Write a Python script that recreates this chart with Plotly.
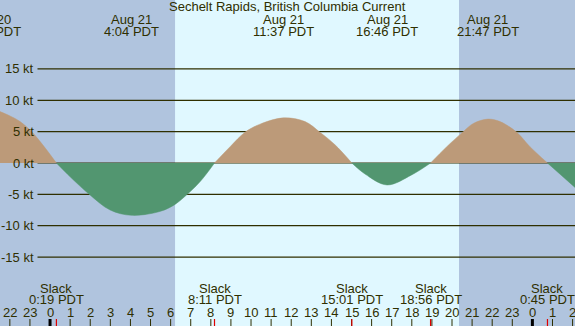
import plotly.graph_objects as go

# ---------------- data (hours relative to Aug 21 00:00 PDT) ----------------
X_MIN, X_MAX = -2.49, 26.12
Y_MIN, Y_MAX = -26.0, 26.0
sunrise_h = 6.22
sunset_h = 20.35

curve_hours = [-2.49, -1.99, -1.49, -0.83, 0.317, 1.0, 1.99, 2.99, 4.067,
               5.5, 6.22, 6.72, 7.46, 8.183, 8.96, 9.70, 10.45, 11.617, 12.69,
               13.43, 14.18, 15.017, 15.67, 16.767, 17.99, 18.933, 19.74, 20.56,
               21.06, 21.783, 22.39, 23.22, 23.88, 24.75, 26.12]
curve_kt = [8.2, 7.5, 6.6, 4.7, 0.0, -2.2, -5.1, -7.5, -8.35,
            -7.7, -6.6, -5.3, -3.0, 0.0, 2.6, 4.9, 6.2, 7.2, 6.6,
            4.9, 2.9, 0.0, -1.75, -3.5, -1.9, 0.0, 2.6, 5.0,
            6.3, 7.0, 6.6, 4.9, 2.6, 0.0, -3.9]

event_hours = [-2.98, 4.067, 11.617, 16.767, 21.783]
event_dates = ["Aug 20", "Aug 21", "Aug 21", "Aug 21", "Aug 21"]
event_times = ["21:01 PDT", "4:04 PDT", "11:37 PDT", "16:46 PDT", "21:47 PDT"]

slack_hours = [0.317, 8.183, 15.017, 18.933, 24.75]
slack_times = ["0:19 PDT", "8:11 PDT", "15:01 PDT", "18:56 PDT", "0:45 PDT"]

hour_ticks = list(range(-2, 27))
hour_labels = [str(h % 24) for h in hour_ticks]

grid_kt = [15, 10, 5, 0, -5, -10, -15]
grid_labels = ["15 kt", "10 kt", "5 kt", "0 kt", "-5 kt", "-10 kt", "-15 kt"]

title_text = "Sechelt Rapids, British Columbia Current"

# ---------------- style ----------------
W, H = 575, 326
NIGHT = "#b0c4de"
DAY = "#e0f8ff"
FLOOD = "#bc9a79"
EBB = "#529670"
INK = "#2f2f00"
FONT = "Liberation Sans"
FS = 13


def py(ypx):
    return 1 - ypx / H


def pxx(h):
    return (h - X_MIN) / (X_MAX - X_MIN)


fig = go.Figure()

# split curve into signed segments at slack (zero) points
segments = []
cur = []
for h, v in zip(curve_hours, curve_kt):
    cur.append((h, v))
    if v == 0 and len(cur) > 1:
        segments.append(cur)
        cur = [(h, v)]
if len(cur) > 1:
    segments.append(cur)

for seg in segments:
    xs = [p[0] for p in seg]
    ys = [p[1] for p in seg]
    col = FLOOD if sum(ys) > 0 else EBB
    fig.add_trace(go.Scatter(x=xs, y=ys, mode="lines", fill="tozeroy",
                             fillcolor=col, line=dict(color=col, width=0.5, shape="spline"),
                             hoverinfo="skip", showlegend=False))

shapes = []
# night / day backgrounds
shapes.append(dict(type="rect", xref="x", yref="paper", x0=X_MIN, x1=sunrise_h, y0=0, y1=1,
                   fillcolor=NIGHT, line=dict(width=0), layer="below"))
shapes.append(dict(type="rect", xref="x", yref="paper", x0=sunrise_h, x1=sunset_h, y0=0, y1=1,
                   fillcolor=DAY, line=dict(width=0), layer="below"))
shapes.append(dict(type="rect", xref="x", yref="paper", x0=sunset_h, x1=X_MAX, y0=0, y1=1,
                   fillcolor=NIGHT, line=dict(width=0), layer="below"))

# gridlines
for g in grid_kt:
    shapes.append(dict(type="line", xref="paper", yref="y", x0=37.5 / W, x1=1, y0=g, y1=g,
                       line=dict(color=INK, width=1.2), layer="below"))

annotations = []
for g, lab in zip(grid_kt, grid_labels):
    annotations.append(dict(x=35.5 / W, y=g, xref="paper", yref="y", text=lab, showarrow=False,
                            xanchor="right", yanchor="middle",
                            font=dict(family=FONT, size=FS, color=INK)))

# hour ticks and labels
for h, lab in zip(hour_ticks, hour_labels):
    midnight = (h % 24 == 0)
    shapes.append(dict(type="line", xref="x", yref="paper", x0=h, x1=h, y0=0, y1=py(319),
                       line=dict(color="#000000" if midnight else INK, width=3 if midnight else 1)))
    annotations.append(dict(x=h, y=py(312), xref="x", yref="paper", text=lab, showarrow=False,
                            xanchor="center", yanchor="middle", borderpad=0,
                            font=dict(family=FONT, size=FS, color=INK)))

# slack markers and labels
for h, t in zip(slack_hours, slack_times):
    shapes.append(dict(type="line", xref="x", yref="paper", x0=h, x1=h, y0=0, y1=py(319),
                       line=dict(color="#e00000", width=1.2)))
    annotations.append(dict(x=pxx(h), y=py(288), xref="paper", yref="paper", text="Slack",
                            showarrow=False, xanchor="center", yanchor="middle", borderpad=0,
                            font=dict(family=FONT, size=FS, color=INK)))
    annotations.append(dict(x=pxx(h), y=py(299.5), xref="paper", yref="paper", text=t,
                            showarrow=False, xanchor="center", yanchor="middle", borderpad=0,
                            font=dict(family=FONT, size=FS, color=INK)))

# max current labels
for h, d, t in zip(event_hours, event_dates, event_times):
    annotations.append(dict(x=pxx(h), y=py(19.5), xref="paper", yref="paper", text=d,
                            showarrow=False, xanchor="center", yanchor="middle", borderpad=0,
                            font=dict(family=FONT, size=FS, color=INK)))
    annotations.append(dict(x=pxx(h), y=py(31.5), xref="paper", yref="paper", text=t,
                            showarrow=False, xanchor="center", yanchor="middle", borderpad=0,
                            font=dict(family=FONT, size=FS, color=INK)))

annotations.append(dict(x=0.5, y=py(7), xref="paper", yref="paper", text=title_text,
                        showarrow=False, xanchor="center", yanchor="middle", borderpad=0,
                        font=dict(family=FONT, size=FS, color=INK)))

fig.update_layout(
    width=W, height=H,
    margin=dict(l=0, r=0, t=0, b=0, pad=0),
    paper_bgcolor=NIGHT, plot_bgcolor=NIGHT,
    xaxis=dict(range=[X_MIN, X_MAX], visible=False, fixedrange=True),
    yaxis=dict(range=[Y_MIN, Y_MAX], visible=False, fixedrange=True),
    shapes=shapes, annotations=annotations, showlegend=False,
)

fig.write_html("out.html", config={"displayModeBar": False},
               post_script="document.body.style.margin='0';document.body.style.overflow='hidden';")
